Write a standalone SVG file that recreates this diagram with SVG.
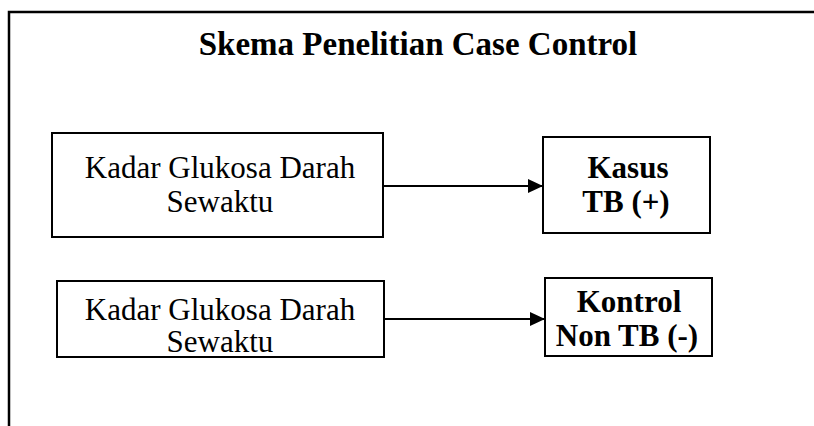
<svg xmlns="http://www.w3.org/2000/svg" width="814" height="426" viewBox="0 0 814 426">
<style>
.box{fill:#fff;stroke:#000;stroke-width:2}
.t{font-family:"Liberation Serif","Times New Roman",serif;font-size:31px;fill:#000;text-anchor:middle;font-weight:normal}
.b{font-weight:bold}
.frame{fill:none;stroke:#000;stroke-width:2.5}
.conn{stroke:#000;stroke-width:2;fill:none}
</style>
<defs>
<marker id="arr" markerWidth="15" markerHeight="14" refX="15" refY="7" orient="auto" markerUnits="userSpaceOnUse" viewBox="0 0 15 14">
<path d="M0,0 L15,7 L0,14 Z" fill="#000"/>
</marker>
</defs>
<path class="frame" d="M9,426 V12 H814"/>
<g id="title"><text class="t b" x="418" y="55" style="font-size:33px">Skema Penelitian Case Control</text></g>
<g id="gula1">
<rect class="box" x="52" y="133" width="331" height="104"/>
<text class="t" x="220" y="178">Kadar Glukosa Darah</text>
<text class="t" x="220" y="212">Sewaktu</text>
</g>
<g id="kasus">
<rect class="box" x="543" y="137" width="167" height="96"/>
<text class="t b" x="628" y="178">Kasus</text>
<text class="t b" x="626" y="212">TB (+)</text>
</g>
<g id="gula2">
<rect class="box" x="57" y="281" width="327" height="76"/>
<text class="t" x="220" y="320">Kadar Glukosa Darah</text>
<text class="t" x="220" y="352">Sewaktu</text>
</g>
<g id="kontrol">
<rect class="box" x="545" y="278" width="167" height="78"/>
<text class="t b" x="629" y="312">Kontrol</text>
<text class="t b" x="627" y="346">Non TB (-)</text>
</g>
<g id="connectors">
<line class="conn" x1="383" y1="186" x2="543" y2="186" marker-end="url(#arr)"/>
<line class="conn" x1="384" y1="319" x2="545" y2="319" marker-end="url(#arr)"/>
</g>
</svg>
